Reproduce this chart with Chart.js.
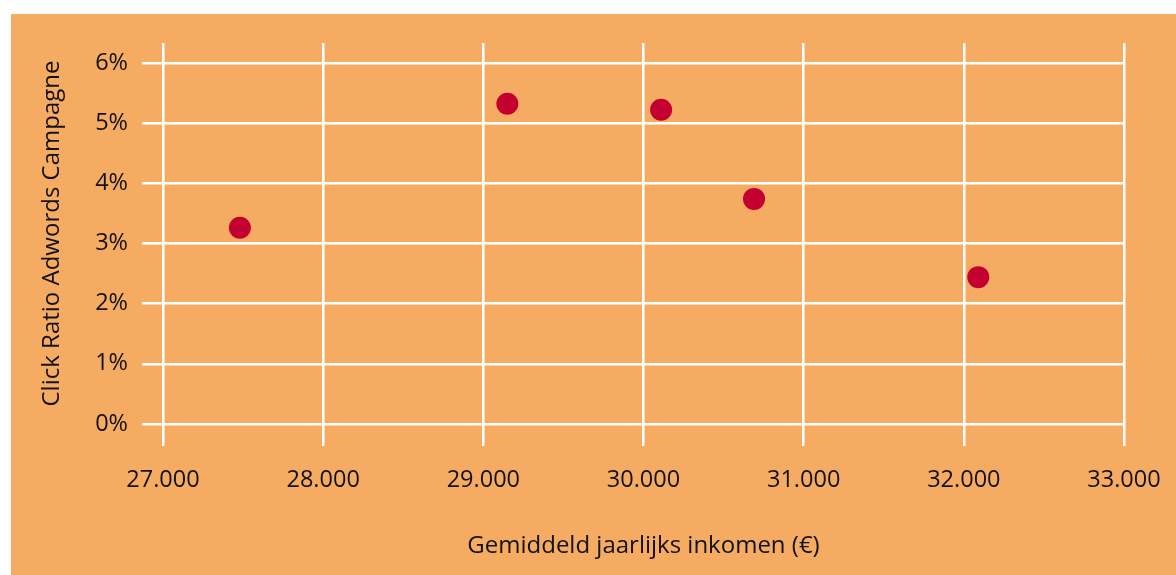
<!DOCTYPE html>
<html>
<head>
<meta charset="utf-8">
<script src="https://cdn.jsdelivr.net/npm/chart.js@4.4.0/dist/chart.umd.min.js"></script>
<style>
  html, body { margin: 0; padding: 0; background: #ffffff; }
  #wrap { position: absolute; left: 11px; top: 14px; width: 1165px; height: 561px; background: #f5ac62; }
</style>
</head>
<body>
<div id="wrap"><canvas id="chart" width="1165" height="561"></canvas></div>
<script>
// average yearly income (x) and click ratio in % (y)
const incomes = [27480, 29150, 30110, 30690, 32090];
const clickRatios = [3.26, 5.32, 5.22, 3.74, 2.44];

// tick values
const xTicks = [27000, 28000, 29000, 30000, 31000, 32000, 33000];
const yTicks = [0, 1, 2, 3, 4, 5, 6];

const xTitle = "Gemiddeld jaarlijks inkomen (€)";
const yTitle = "Click Ratio Adwords Campagne";

// dutch thousands separator
function formatThousands(v) {
  return String(v).replace(/\B(?=(\d{3})+(?!\d))/g, ".");
}

var tickFont = { family: "Open Sans", size: 23.5 };
var titleFont = { family: "Open Sans", size: 24 };
var textColor = "#111111";

var ctx = document.getElementById("chart").getContext("2d");

var myChart = new Chart(ctx, {
  type: "scatter",
  data: {
    datasets: [
      {
        data: incomes.map((x, i) => ({ x: x, y: clickRatios[i] })),
        backgroundColor: "#c3002f",
        borderWidth: 0,
        pointRadius: 11,
        pointHoverRadius: 11,
      },
    ],
  },
  options: {
    responsive: false,
    animation: false,
    layout: { padding: { top: 29, right: 52, left: 0, bottom: 0 } },
    plugins: {
      legend: { display: false },
      tooltip: { enabled: false },
    },
    scales: {
      x: {
        type: "linear",
        min: 27000,
        max: 33000,
        afterBuildTicks: (scale) => {
          scale.ticks = xTicks.map((v) => ({ value: v }));
        },
        afterFit: (scale) => {
          scale.height = 151;
          // let the layout padding decide the right edge
          scale.paddingLeft = 0;
          scale.paddingRight = 0;
        },
        grid: { color: "#ffffff", lineWidth: 2.5, tickLength: 22 },
        border: { display: false },
        ticks: {
          font: tickFont,
          color: textColor,
          padding: 20,
          maxRotation: 0,
          callback: (v) => formatThousands(v),
        },
        title: {
          display: true,
          text: xTitle,
          font: titleFont,
          color: textColor,
          padding: { top: 0, bottom: 14 },
        },
      },
      y: {
        type: "linear",
        min: 0,
        max: 6.33,
        afterBuildTicks: (scale) => {
          scale.ticks = yTicks.map((v) => ({ value: v }));
        },
        afterFit: (scale) => {
          scale.width = 152;
        },
        grid: { color: "#ffffff", lineWidth: 2.5, tickLength: 21 },
        border: { display: false },
        ticks: {
          font: tickFont,
          color: textColor,
          padding: 14,
          callback: (v) => v + "%",
        },
        title: {
          display: true,
          text: yTitle,
          font: titleFont,
          color: textColor,
          padding: { top: 27, bottom: 0 },
        },
      },
    },
  },
});
</script>
</body>
</html>
